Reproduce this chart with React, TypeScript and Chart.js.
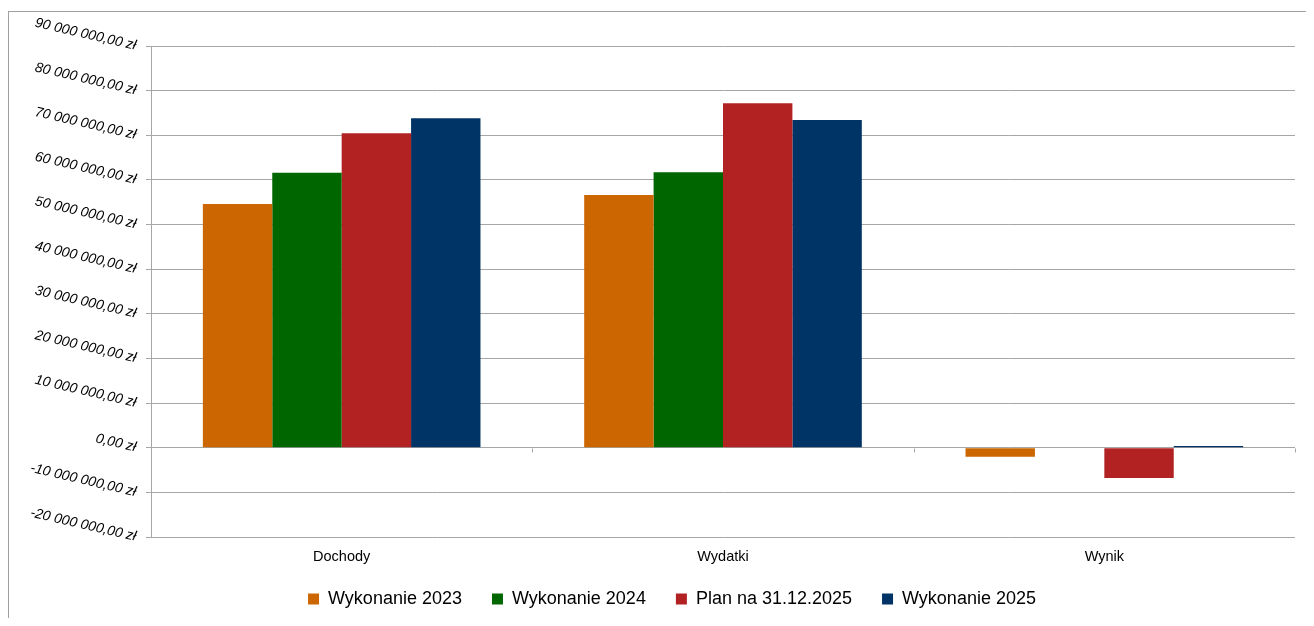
import React, { useEffect, useRef } from 'react';
import { Chart, registerables } from 'chart.js';

Chart.register(...registerables);

const categories = ['Dochody', 'Wydatki', 'Wynik'];
const seriesNames = ['Wykonanie 2023', 'Wykonanie 2024', 'Plan na 31.12.2025', 'Wykonanie 2025'];
const wykonanie2023 = [54600000, 56600000, -2000000];
const wykonanie2024 = [61600000, 61700000, -100000];
const plan2025 = [70450000, 77200000, -6800000];
const wykonanie2025 = [73800000, 73400000, 400000];
const seriesColors = ['#cc6600', '#006600', '#b22222', '#003366'];
const yMin = -20000000;
const yMax = 90000000;
const yStep = 10000000;

function formatPLN(v: number): string {
  const neg = v < 0;
  const abs = Math.abs(Math.round(v));
  const s = abs.toString().replace(/\B(?=(\d{3})+(?!\d))/g, ' ');
  return (neg ? '-' : '') + s + ',00 zł';
}

const GRID = '#a6a6a6';

const zeroTicks = {
  id: 'zeroTicks',
  afterDraw(chart: any) {
    const xs = chart.scales.x;
    const ys = chart.scales.y;
    const ctx = chart.ctx;
    const y0 = Math.round(ys.getPixelForValue(0)) + 0.5;
    ctx.save();
    ctx.strokeStyle = GRID;
    ctx.lineWidth = 1;
    ctx.beginPath();
    for (let i = 0; i < categories.length; i++) {
      const px = Math.round(xs.getPixelForValue(i + 0.5)) + 0.5;
      ctx.moveTo(px, y0);
      ctx.lineTo(px, y0 + 4);
    }
    ctx.stroke();
    ctx.restore();
  },
};

// shift the legend block to match the reference placement
const legendShift = {
  id: 'legendShift',
  afterLayout(chart: any) {
    const lg = chart.legend;
    if (!lg) return;
    lg.left += 40;
    lg.top -= 5;
    lg.bottom -= 5;
  },
};

export default function App() {
  const ref = useRef<HTMLCanvasElement>(null);

  useEffect(() => {
    Chart.defaults.font.family = "'Liberation Sans', Arial, sans-serif";
    const seriesData = [wykonanie2023, wykonanie2024, plan2025, wykonanie2025];
    const chart = new Chart(ref.current as HTMLCanvasElement, {
      type: 'bar',
      data: {
        labels: categories,
        datasets: seriesNames.map((name, i) => ({
          label: name,
          data: seriesData[i],
          backgroundColor: seriesColors[i],
          borderWidth: 0,
          categoryPercentage: 0.728,
          barPercentage: 1,
        })),
      },
      options: {
        responsive: false,
        animation: false,
        layout: { padding: { left: 0, right: 19, top: 34, bottom: 0 } },
        plugins: {
          tooltip: { enabled: false },
          legend: {
            position: 'bottom',
            labels: {
              boxWidth: 11,
              boxHeight: 11,
              padding: 30,
              color: '#000',
              font: { size: 18 },
            },
          },
        },
        scales: {
          x: {
            grid: { display: false, drawTicks: false },
            border: { display: false },
            ticks: { color: '#000', font: { size: 14.5 }, padding: 11 },
            afterFit(scale: any) {
              scale.height = 28;
            },
          },
          y: {
            min: yMin,
            max: yMax,
            grid: { color: GRID, lineWidth: 1, tickLength: 5, drawTicks: true },
            border: { display: true, color: GRID, width: 1 },
            ticks: {
              stepSize: yStep,
              color: '#000',
              padding: 10,
              minRotation: -13,
              maxRotation: -13,
              font: { size: 14, style: 'italic' },
              callback: (v: any) => formatPLN(Number(v)),
            },
            afterFit(scale: any) {
              scale.width = 142;
            },
          },
        },
      },
      plugins: [zeroTicks, legendShift],
    } as any);
    return () => chart.destroy();
  }, []);

  return (
    <div style={{ paddingTop: 3 }}>
      <div
        style={{
          borderLeft: '1px solid #a0a0a0',
          borderTop: '1px solid #a0a0a0',
          width: 1305,
          height: 606,
          overflow: 'hidden',
        }}
      >
        <canvas ref={ref} width={1305} height={611} style={{ display: 'block' }} />
      </div>
    </div>
  );
}
